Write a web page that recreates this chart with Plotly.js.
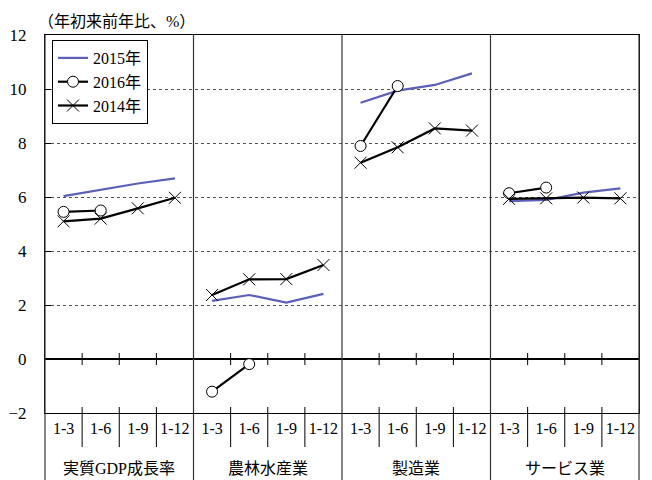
<!DOCTYPE html>
<html><head><meta charset="utf-8">
<script src="https://cdn.plot.ly/plotly-3.0.1.min.js"></script>
<style>body{margin:0;background:#fff}#c{width:652px;height:480px}</style>
</head><body><div id="c"></div>
<script>
const groups = ['実質GDP成長率', '農林水産業', '製造業', 'サービス業'];
const periods = ['1-3', '1-6', '1-9', '1-12'];
// values per slot (4 groups x 4 periods), null = no data
const y2015 = [6.03, 6.27, 6.50, 6.69,  2.15, 2.37, 2.09, 2.41,  9.49, 9.94, 10.15, 10.58,  5.85, 5.89, 6.16, 6.32];
const y2016 = [5.45, 5.50, null, null,  -1.21, -0.19, null, null,  7.89, 10.11, null, null,  6.14, 6.35, null, null];
const y2014 = [5.10, 5.20, 5.58, 5.97,  2.37, 2.95, 2.96, 3.48,  7.27, 7.84, 8.54, 8.46,  5.93, 5.95, 5.98, 5.95];

const SERIF = 'Liberation Serif';
const FONT = 'Liberation Serif, Noto Sans CJK JP';
const nSlots = groups.length * periods.length;
const xs = [];
const ticktext = [];
for (let g = 0; g < groups.length; g++) for (let p = 0; p < periods.length; p++) { xs.push(g * periods.length + p + 0.5); ticktext.push(periods[p]); }

// break lines between groups
function withBreaks(vals) {
  const x = [], y = [];
  for (let i = 0; i < vals.length; i++) {
    if (i > 0 && i % periods.length === 0) { x.push(i); y.push(null); }
    x.push(xs[i]); y.push(vals[i]);
  }
  return {x, y};
}

const s15 = withBreaks(y2015), s16 = withBreaks(y2016), s14 = withBreaks(y2014);
const traces = [
  {x: s15.x, y: s15.y, name: '2015年', mode: 'lines', line: {color: '#5b60b8', width: 2.2}, legendgroup: 'a', connectgaps: false},
  {x: s16.x, y: s16.y, name: '2016年', mode: 'lines+markers', line: {color: '#000', width: 2.2},
   marker: {symbol: 'circle', size: 11, color: '#fff', line: {color: '#000', width: 1}}, legendgroup: 'b', connectgaps: false},
  {x: s14.x, y: s14.y, name: '2014年', mode: 'lines+markers', line: {color: '#000', width: 2.2},
   marker: {symbol: 'x-thin-open', size: 12, color: '#000', line: {color: '#000', width: 1}}, legendgroup: 'c', connectgaps: false}
];

const H = 480 - 35 - 67;
const shapes = [];
const bottomPaper = -67 / H;
for (let b = 0; b <= nSlots; b++) {
  const xp = b / nSlots;
  if (b % periods.length === 0) {
    shapes.push({type: 'line', xref: 'paper', yref: 'paper', x0: xp, x1: xp, y0: 1, y1: bottomPaper, line: {color: '#333', width: 1.2}});
  } else {
    shapes.push({type: 'line', xref: 'paper', yref: 'paper', x0: xp, x1: xp, y0: 6 / H, y1: -34 / H, line: {color: '#000', width: 1}});
    shapes.push({type: 'line', xref: 'x', yref: 'y', ysizemode: 'pixel', yanchor: 0, x0: b, x1: b, y0: -6, y1: 6, line: {color: '#000', width: 1}});
  }
}

const annotations = [
  {text: '（年初来前年比、%）', xref: 'paper', yref: 'paper', x: -9 / 594, y: 1 + 13 / H, xanchor: 'left', yanchor: 'middle', showarrow: false, font: {family: FONT, size: 16, color: '#000'}}
];
for (let g = 0; g < groups.length; g++) {
  annotations.push({text: groups[g], xref: 'x', yref: 'paper', x: g * periods.length + periods.length / 2, y: -55 / H, xanchor: 'center', yanchor: 'middle', showarrow: false, font: {family: FONT, size: 16, color: '#000'}});
}

const layout = {
  width: 652, height: 480,
  margin: {l: 45, r: 13, t: 35, b: 67},
  paper_bgcolor: '#fff', plot_bgcolor: '#fff',
  font: {family: FONT, color: '#000'},
  showlegend: true,
  legend: {x: 7 / 594, y: 1 - 5 / H, xanchor: 'left', yanchor: 'top', bgcolor: '#fff', bordercolor: '#000', borderwidth: 1,
    font: {family: FONT, size: 16, color: '#000'}, tracegroupgap: 9, traceorder: 'normal'},
  xaxis: {range: [0, nSlots], tickvals: xs, ticktext: ticktext, ticks: '', showgrid: false, zeroline: false,
    showline: true, linecolor: '#000', linewidth: 1, mirror: true, ticklabelstandoff: 1,
    tickfont: {family: SERIF, size: 16, color: '#000'}, fixedrange: true},
  yaxis: {range: [-2, 12], dtick: 2, tick0: 0, ticks: 'inside', ticklen: 6, tickcolor: '#000',
    showline: true, linecolor: '#000', linewidth: 1, mirror: true,
    showgrid: true, gridcolor: '#555', griddash: 'dot', gridwidth: 1,
    zeroline: true, zerolinecolor: '#000', zerolinewidth: 1.5,
    ticklabelstandoff: 14, tickfont: {family: SERIF, size: 17, color: '#000'}, fixedrange: true},
  shapes: shapes,
  annotations: annotations
};
Plotly.newPlot('c', traces, layout, {staticPlot: true});
</script>
</body></html>
